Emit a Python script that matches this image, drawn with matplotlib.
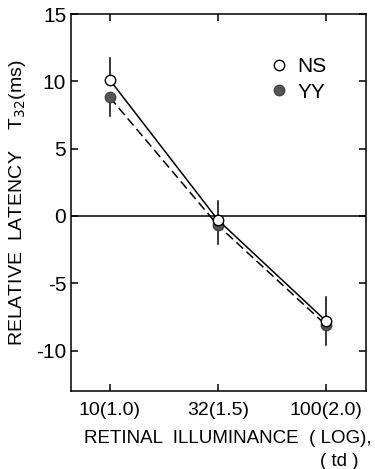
import matplotlib.pyplot as plt
from matplotlib.lines import Line2D

plt.rcParams['font.family'] = ['Liberation Sans', 'DejaVu Sans']

log_illum = [1.0, 1.5, 2.0]
tick_labels = ["10(1.0)", "32(1.5)", "100(2.0)"]

ns_latency = [10.1, -0.3, -7.8]
ns_err_up = [1.6, 1.4, 1.8]

yy_latency = [8.8, -0.7, -8.1]
yy_err_down = [1.4, 1.4, 1.5]


def main():
    fig = plt.figure(figsize=(3.75, 4.69), dpi=100)
    ax = fig.add_axes([71 / 375, 1 - 391 / 469, 295 / 375, 377 / 469])

    ax.axhline(0, color="black", lw=1.1)

    # error bars: NS upward, YY downward
    for x, y, e in zip(log_illum, ns_latency, ns_err_up):
        ax.plot([x, x], [y, y + e], color="black", lw=1.1)
    for x, y, e in zip(log_illum, yy_latency, yy_err_down):
        ax.plot([x, x], [y, y - e], color="black", lw=1.1)

    ax.plot(log_illum, yy_latency, color="black", lw=1.1, ls=(0, (6, 3)),
            marker="o", ms=7.5, mfc="#555555", mec="#444444", zorder=3)
    ax.plot(log_illum, ns_latency, color="black", lw=1.1,
            marker="o", ms=7.5, mfc="white", mec="black", zorder=4)

    ax.set_xlim(0.82, 2.185)
    ax.set_ylim(-13, 15)
    ax.set_xticks(log_illum)
    ax.set_xticklabels(tick_labels, fontsize=14)
    ax.set_yticks([15, 10, 5, 0, -5, -10])
    ax.set_yticklabels(["15", "10", "5", "0", "-5", "-10"], fontsize=15)
    ax.tick_params(direction="in", top=True, right=True, length=5, width=1.1)
    ax.tick_params(axis="x", pad=8)
    for s in ax.spines.values():
        s.set_linewidth(1.1)

    ax.set_ylabel("RELATIVE  LATENCY    T$_{32}$(ms)", fontsize=14, labelpad=6)
    fig.text(0.99, 1 - 438 / 469, "RETINAL  ILLUMINANCE  ( LOG),",
             ha="right", va="center", fontsize=13.5)
    fig.text(0.955, 1 - 461 / 469, "( td )", ha="right", va="center", fontsize=13.5)

    handles = [
        Line2D([], [], ls="none", marker="o", ms=7.5, mfc="white", mec="black"),
        Line2D([], [], ls="none", marker="o", ms=7.5, mfc="#555555", mec="#444444"),
    ]
    ax.legend(handles, ["NS", "YY"], loc="upper right", bbox_to_anchor=(0.93, 0.935),
              frameon=False, fontsize=15, handletextpad=0.3, labelspacing=0.3,
              handlelength=1.2)

    fig.savefig("out.png", dpi=100)
    plt.close(fig)


if __name__ == "__main__":
    main()
